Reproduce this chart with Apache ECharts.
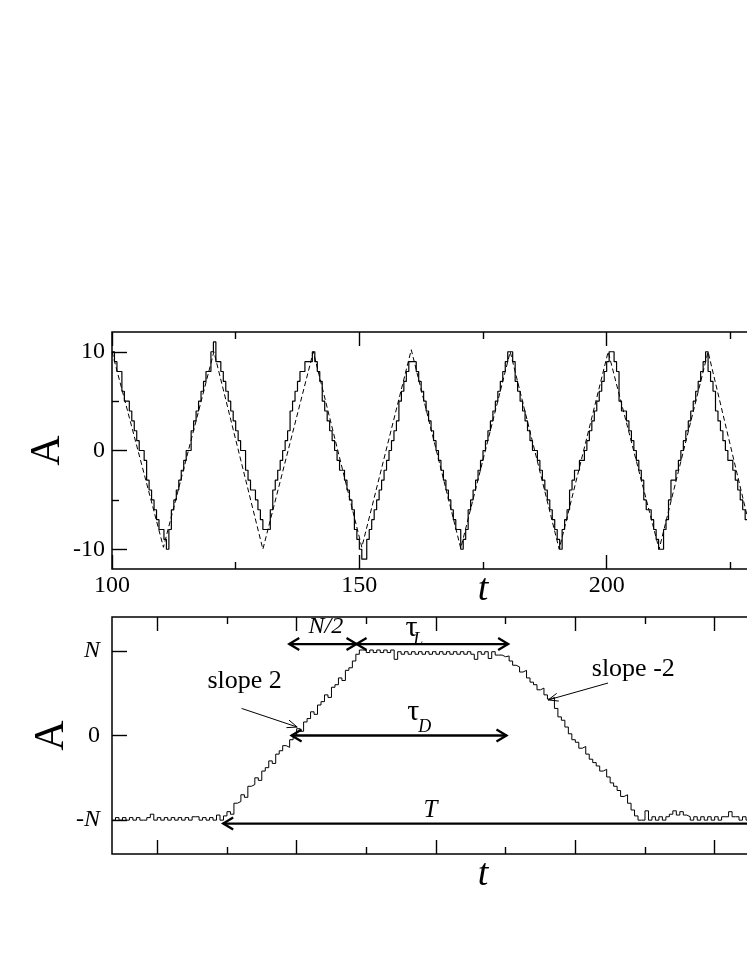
<!DOCTYPE html>
<html><head><meta charset="utf-8">
<script src="https://cdn.jsdelivr.net/npm/echarts@6/dist/echarts.min.js"></script>
<style>html,body{margin:0;padding:0;background:#fff}#c{width:747px;height:967px}</style>
</head><body><div id="c"></div>
<script>
// ---------- upper panel data ----------
const topStart = 100, topStep = 0.5;          // sample times of the staircase
const topSolid = [
  10, 9, 8, 8, 6, 5, 5, 4, 3, 2, 1, 0, 0, -1, -3, -4, -5, -6, -7, -8,
  -8, -9, -10, -8, -6, -5, -4, -3, -2, -1, 0, 0, 2, 3, 4, 5, 6, 7, 8, 8,
  10, 11, 9, 9, 8, 7, 6, 5, 4, 3, 2, 1, 0, 0, -2, -3, -4, -4, -5, -6,
  -7, -8, -8, -8, -6, -4, -3, -2, -1, 0, 1, 2, 4, 5, 6, 7, 8, 8, 9, 9,
  9, 10, 9, 8, 7, 5, 4, 3, 2, 1, 0, -1, -2, -2, -3, -4, -5, -6, -8, -9,
  -10, -11, -11, -9, -8, -7, -6, -5, -4, -3, -2, -1, 0, 1, 2, 3, 5, 6, 7, 8,
  9, 9, 9, 8, 7, 6, 5, 4, 3, 2, 1, 0, -1, -2, -3, -4, -5, -6, -7, -8,
  -8, -10, -9, -8, -6, -5, -4, -3, -2, -1, 0, 1, 2, 3, 4, 5, 6, 7, 8, 9,
  10, 10, 9, 7, 6, 5, 4, 3, 2, 1, 0, 0, -1, -2, -3, -4, -5, -6, -7, -8,
  -9, -10, -8, -7, -6, -4, -3, -2, -2, -1, -1, 0, 1, 2, 3, 4, 5, 6, 7, 8,
  9, 10, 10, 9, 8, 5, 4, 4, 3, 2, 1, 0, -1, -2, -3, -5, -6, -6, -7, -8,
  -9, -10, -10, -8, -7, -5, -3, -3, -2, -1, 0, 1, 2, 3, 4, 5, 6, 7, 8, 9,
  10, 8, 7, 6, 4, 3, 2, 1, 0, -1, -1, -2, -3, -4, -5, -6, -7, -9, -9, -10
];
const topDashed = [
  [100, 10], [110.4, -9.8], [120.6, 10], [130.5, -10], [140.7, 10], [150.5, -9.8],
  [160.5, 10.2], [170.5, -9.9], [180.5, 10], [190.4, -10], [200.3, 10], [210.6, -10],
  [220.5, 10], [230.0, -10]
];
const topXMajor = [100, 150, 200, 250];
const topXLabels = [100, 150, 200];
const topXMinor = [125, 175, 225];
const topYMajor = [-10, 0, 10];
const topYMinor = [-5, 5];

// ---------- lower panel data ----------
const botStart = -3.25, botStep = 0.25;
const pulseLow1 = [-10,-9.7,-10,-9.7,-10,-9.7,-10,-9.7,-10,-10,-9.7,-9.3,-10,-9.7,-10,-9.7,
  -10,-9.7,-10,-9.7,-10,-9.7,-10,-9.6,-9.6,-10,-9.7,-10,-9.7,-10,-9.4,-10];
const pulseRise = [-9.5,-9.0,-9.3,-8.0,-7.8,-7.0,-7.3,-6.0,-5.8,-5.0,-5.3,-4.2,-3.8,-3.0,-3.3,
  -2.2,-1.8,-1.2,-1.4,-0.5,0.0,0.8,0.5,1.6,2.0,2.8,2.5,3.6,4.0,4.8,4.5,5.7,6.0,6.8,6.5,7.7,8.0,8.8,9.6,10.1];
const pulseHigh = [10.1,9.8,10.1,9.8,10.1,9.8,10.1,9.8,10.1,9.0,9.9,9.6,9.9,9.6,9.9,9.6,9.9,9.6,
  9.9,9.6,9.9,9.6,9.9,9.6,9.9,9.6,9.9,9.6,9.9,9.6,9.9,9.6,9.0,9.9,9.6,9.9,9.1,9.9,9.5,9.5];
const pulseFall = [9.3,9.4,8.8,8.3,8.1,7.5,7.7,6.8,6.3,6.0,5.4,5.6,4.8,4.3,4.5,3.2,2.2,1.8,1.0,0.2,
  -0.5,-0.8,-1.5,-1.3,-2.2,-2.8,-3.2,-3.6,-4.2,-4.0,-4.9,-5.6,-6.0,-6.5,-7.2,-7.0,-8.0,-8.8,-9.5,-10];
const pulseLow2 = [-10,-8.9,-10,-9.6,-10,-9.6,-10,-9.6,-9.3,-8.9,-9.4,-9.0,-9.4,-9.6,-10,-9.6,-10,
  -9.6,-10,-9.6,-10,-9.6,-10,-9.6,-9.6,-9.0,-9.6,-9.6,-10,-9.6,-10,-9.6,-10,-9.6];
const botXMajor = [0, 10, 20, 30, 40, 50];
const botXMinor = [5, 15, 25, 35, 45];
const botYMajor = [-10, 0, 10];
const botYText = {'-10': '-{i|N}', '0': '0', '10': '{i|N}'};

// ---------- annotations (in lower-panel data units) ----------
const arrows = [
  {x1: 9.47, x2: 14.3, y: 10.8},    // N/2
  {x1: 14.3, x2: 25.18, y: 10.8},   // tau_L
  {x1: 9.64, x2: 25.06, y: 0},      // tau_D
  {x1: 4.73, x2: 70, y: -10.4}      // T
];
const pointers = [
  {x1: 6.05, y1: 3.2, x2: 10.04, y2: 1.0},
  {x1: 32.35, y1: 6.2, x2: 28.05, y2: 4.2}
];
const notes = [
  {text: 'N/2', x: 12.1, y: 12.9, size: 24, italic: true},
  {text: 'τ', x: 18.24, y: 12.7, size: 30},
  {text: 'L', x: 18.72, y: 11.2, size: 18, italic: true},
  {text: 'τ', x: 18.38, y: 2.8, size: 30},
  {text: 'D', x: 19.2, y: 0.97, size: 18, italic: true},
  {text: 'T', x: 19.6, y: -8.8, size: 25, italic: true},
  {text: 'slope 2', x: 6.27, y: 6.45, size: 26},
  {text: 'slope -2', x: 34.16, y: 7.8, size: 26}
];

// ---------- build ----------
const FONT = 'Liberation Serif';
const solidData = topSolid.map((v, i) => [topStart + i * topStep, v]);
const pulseVals = pulseLow1.concat(pulseRise, pulseHigh, pulseFall, pulseLow2);
const pulseData = pulseVals.map((v, i) => [botStart + i * botStep, v]);

function ax(grid, pos, min, max, ticks, len, extra) {
  return Object.assign({
    type: 'value', gridIndex: grid, position: pos, min: min, max: max,
    axisLine: {show: false, onZero: false},
    splitLine: {show: false},
    nameMoveOverlap: false,
    axisTick: {show: true, inside: true, length: len, customValues: ticks,
      lineStyle: {color: '#000', width: 1.4}},
    axisLabel: {show: false}
  }, extra || {});
}
const lblStyle = {color: '#000', fontFamily: FONT, fontSize: 24};
const tName = {color: '#000', fontFamily: FONT, fontSize: 38, fontStyle: 'italic', verticalAlign: 'top'};
const aName = {color: '#000', fontFamily: FONT, fontSize: 42};

const option = {
  animation: false,
  backgroundColor: '#fff',
  grid: [
    {left: 112, top: 332, width: 742, height: 237, show: true, borderColor: '#000', borderWidth: 1.5,
      backgroundColor: 'transparent', outerBoundsMode: 'none', containLabel: false},
    {left: 112, top: 617, width: 742, height: 237, show: true, borderColor: '#000', borderWidth: 1.5,
      backgroundColor: 'transparent', outerBoundsMode: 'none', containLabel: false}
  ],
  xAxis: [
    ax(0, 'bottom', 100, 250, topXMajor, 14, {
      axisLabel: Object.assign({show: true, margin: 5, customValues: topXLabels}, lblStyle),
      name: 't', nameLocation: 'middle', nameGap: 2, nameTextStyle: tName
    }),
    ax(0, 'top', 100, 250, topXMajor, 14),
    ax(0, 'bottom', 100, 250, topXMinor, 7),
    ax(0, 'top', 100, 250, topXMinor, 7),
    ax(1, 'bottom', -3.25, 50, botXMajor, 14, {
      name: 't', nameLocation: 'middle', nameGap: 2, nameTextStyle: tName
    }),
    ax(1, 'top', -3.25, 50, botXMajor, 14),
    ax(1, 'bottom', -3.25, 50, botXMinor, 7),
    ax(1, 'top', -3.25, 50, botXMinor, 7)
  ],
  yAxis: [
    ax(0, 'left', -12, 12, topYMajor, 15, {
      axisLabel: Object.assign({show: true, margin: 7, customValues: topYMajor}, lblStyle),
      name: 'A', nameLocation: 'middle', nameRotate: 90, nameGap: 43, nameTextStyle: aName
    }),
    ax(0, 'left', -12, 12, topYMinor, 7),
    ax(1, 'left', -14, 14, botYMajor, 15, {
      axisLabel: Object.assign({show: true, margin: 12, customValues: botYMajor,
        formatter: v => botYText[String(v)],
        rich: {i: {fontStyle: 'italic', fontFamily: FONT, fontSize: 24, color: '#000'}}}, lblStyle),
      name: 'A', nameLocation: 'middle', nameRotate: 90, nameGap: 39, nameTextStyle: aName
    })
  ],
  series: [
    {type: 'line', xAxisIndex: 0, yAxisIndex: 0, data: solidData, step: 'end', symbol: 'none',
      lineStyle: {color: '#000', width: 1.2}, clip: true, z: 3},
    {type: 'line', xAxisIndex: 0, yAxisIndex: 0, data: topDashed, symbol: 'none',
      lineStyle: {color: '#000', width: 1, type: [5, 3]}, clip: true, z: 4},
    {type: 'line', xAxisIndex: 4, yAxisIndex: 2, data: pulseData, step: 'end', symbol: 'none',
      lineStyle: {color: '#000', width: 1}, clip: true, z: 3},
    {type: 'custom', xAxisIndex: 4, yAxisIndex: 2, silent: true, z: 5,
      data: arrows.map(a => [a.x1, a.y]),
      renderItem: function (params, api) {
        const a = arrows[params.dataIndex];
        const p1 = api.coord([a.x1, a.y]), p2 = api.coord([a.x2, a.y]);
        const st = {stroke: '#000', lineWidth: 2.3, fill: null};
        return {type: 'group', children: [
          {type: 'line', shape: {x1: p1[0], y1: p1[1], x2: p2[0], y2: p2[1]}, style: st},
          {type: 'polyline', shape: {points: [[p1[0] + 10, p1[1] - 6], [p1[0], p1[1]], [p1[0] + 10, p1[1] + 6]]}, style: st},
          {type: 'polyline', shape: {points: [[p2[0] - 10, p2[1] - 6], [p2[0], p2[1]], [p2[0] - 10, p2[1] + 6]]}, style: st}
        ]};
      }
    },
    {type: 'custom', xAxisIndex: 4, yAxisIndex: 2, silent: true, z: 5,
      data: pointers.map(a => [a.x2, a.y2]),
      renderItem: function (params, api) {
        const a = pointers[params.dataIndex];
        const p1 = api.coord([a.x1, a.y1]), p2 = api.coord([a.x2, a.y2]);
        const dx = p2[0] - p1[0], dy = p2[1] - p1[1], L = Math.hypot(dx, dy);
        const ux = dx / L, uy = dy / L, w = 10, h = 4;
        const st = {stroke: '#000', lineWidth: 1, fill: null};
        return {type: 'group', children: [
          {type: 'line', shape: {x1: p1[0], y1: p1[1], x2: p2[0], y2: p2[1]}, style: st},
          {type: 'polyline', shape: {points: [
            [p2[0] - ux * w - uy * h, p2[1] - uy * w + ux * h], [p2[0], p2[1]],
            [p2[0] - ux * w + uy * h, p2[1] - uy * w - ux * h]]}, style: st}
        ]};
      }
    },
    {type: 'custom', xAxisIndex: 4, yAxisIndex: 2, silent: true, z: 6,
      data: notes.map(n => [n.x, n.y]),
      renderItem: function (params, api) {
        const n = notes[params.dataIndex];
        const p = api.coord([n.x, n.y]);
        return {type: 'text', x: p[0], y: p[1], style: {
          text: n.text, fill: '#000', fontFamily: FONT, fontSize: n.size,
          fontStyle: n.italic ? 'italic' : 'normal', align: 'center', verticalAlign: 'middle'}};
      }
    }
  ]
};
const chart = echarts.init(document.getElementById('c'), null, {renderer: 'canvas'});
chart.setOption(option);
</script>
</body></html>
